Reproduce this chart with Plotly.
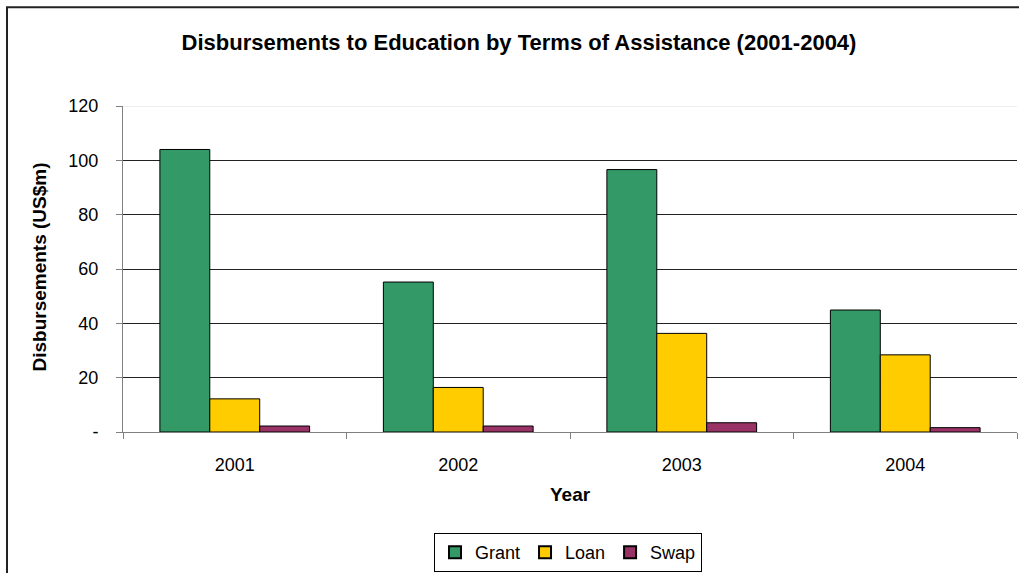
import plotly.graph_objects as go

years = ["2001", "2002", "2003", "2004"]
grant = [104.0, 55.2, 96.6, 44.9]
loan = [12.2, 16.4, 36.3, 28.4]
swap = [2.2, 2.2, 3.4, 1.6]
series_names = ["Grant", "Loan", "Swap"]
series_colors = ["#339966", "#FFCC00", "#993366"]
y_tickvals = [0, 20, 40, 60, 80, 100, 120]
y_ticktext = ["-", "20", "40", "60", "80", "100", "120"]

FONT = "Liberation Sans, Arial, sans-serif"

# plot area in pixels
L, R, T, B = 123, 1017, 106, 433
W, H = 1019, 573
pw, ph = R - L, B - T


def px_x(x):
    return (x - L) / pw


def px_y(y):
    return (B - y) / ph


fig = go.Figure()
for name, vals, col in zip(series_names, [grant, loan, swap], series_colors):
    fig.add_trace(go.Bar(
        x=years, y=vals, name=name,
        marker=dict(color=col, line=dict(color="#000000", width=1)),
    ))

fig.update_layout(
    width=W, height=H,
    margin=dict(l=L, r=W - R, t=T, b=H - B),
    paper_bgcolor="white", plot_bgcolor="white",
    barmode="group", bargap=0.33, bargroupgap=0,
    font=dict(family=FONT, color="#000000", size=18),
    title=dict(
        text="<b>Disbursements to Education by Terms of Assistance (2001-2004)</b>",
        font=dict(family=FONT, size=22, color="#000000"),
        xref="container", x=519 / W, xanchor="center",
        yref="container", y=1 - 42 / H, yanchor="middle",
    ),
    xaxis=dict(
        type="category",
        showline=True, linecolor="#808080", linewidth=1,
        ticks="outside", ticklen=6, tickcolor="#808080",
        tickson="boundaries",
        showgrid=False,
        tickfont=dict(size=18, family=FONT),
        ticklabelstandoff=16,
    ),
    yaxis=dict(
        range=[0, 120],
        tickvals=y_tickvals, ticktext=y_ticktext,
        showline=True, linecolor="#808080", linewidth=1,
        ticks="outside", ticklen=6, tickcolor="#808080",
        showgrid=True, gridcolor="#222222", gridwidth=1,
        zeroline=False,
        tickfont=dict(size=18, family=FONT),
        ticklabelstandoff=14,
    ),
    legend=dict(
        orientation="h",
        x=px_x(568), xanchor="center",
        y=px_y(533), yanchor="top",
        bordercolor="#000000", borderwidth=1,
        font=dict(size=18, family=FONT),
        itemsizing="constant",
        tracegroupgap=0,
        itemwidth=30,
    ),
    showlegend=True,
    annotations=[
        dict(text="<b>Year</b>", xref="paper", yref="paper",
             x=px_x(570), y=px_y(496), xanchor="center", yanchor="middle",
             showarrow=False, font=dict(size=19, family=FONT)),
        dict(text="<b>Disbursements (US$m)</b>", xref="paper", yref="paper",
             x=px_x(40), y=px_y(268), xanchor="center", yanchor="middle",
             textangle=-90, showarrow=False, font=dict(size=19, family=FONT)),
    ],
    shapes=[
        # light top gridline at 120
        dict(type="line", xref="paper", yref="y", x0=0, x1=1, y0=120, y1=120,
             line=dict(color="#dddddd", width=1), layer="above"),
        # outer chart border (left and top)
        dict(type="line", xref="paper", yref="paper",
             x0=px_x(7), x1=px_x(7), y0=px_y(7), y1=px_y(H + 5),
             line=dict(color="#222222", width=2)),
        dict(type="line", xref="paper", yref="paper",
             x0=px_x(6), x1=px_x(W + 5), y0=px_y(7), y1=px_y(7),
             line=dict(color="#222222", width=2)),
    ],
)

fig.write_html("out.html")
